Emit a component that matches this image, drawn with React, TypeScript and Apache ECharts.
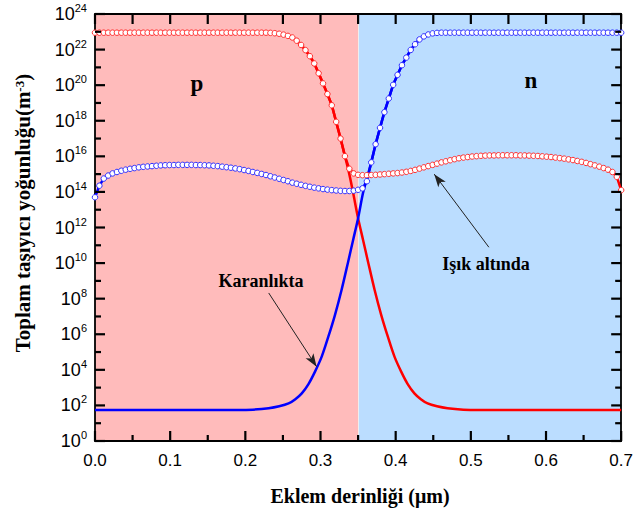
import React, { useEffect, useRef } from "react";
import * as echarts from "echarts";

// ---- Data (carrier density exponents: log10 of m^-3) ----
const depthStep = 0.7 / 120; // uniform simulation mesh, 121 nodes from 0 to 0.7 µm

// Illuminated (Işık altında) – holes, one value per mesh node
const holesLight = [
  22.95, 22.95, 22.95, 22.95, 22.95, 22.95, 22.95, 22.95, 22.95, 22.95,
  22.95, 22.95, 22.95, 22.95, 22.95, 22.95, 22.95, 22.95, 22.95, 22.95,
  22.95, 22.95, 22.95, 22.95, 22.95, 22.95, 22.95, 22.95, 22.95, 22.95,
  22.95, 22.95, 22.95, 22.95, 22.95, 22.95, 22.95, 22.95, 22.95, 22.95,
  22.94, 22.92, 22.89, 22.84, 22.77, 22.68, 22.5, 22.26, 21.97, 21.63,
  21.22, 20.67, 20.1, 19.5, 18.87, 17.94, 17.0, 16.01, 15.3, 15.04,
  14.96, 14.94, 14.94, 14.95, 14.96, 14.98, 15.0, 15.02, 15.04, 15.06,
  15.09, 15.13, 15.18, 15.24, 15.31, 15.38, 15.45, 15.52, 15.59, 15.66,
  15.72, 15.78, 15.84, 15.89, 15.93, 15.96, 15.99, 16.01, 16.03, 16.04,
  16.05, 16.05, 16.06, 16.06, 16.06, 16.06, 16.06, 16.05, 16.05, 16.04,
  16.03, 16.02, 16.0, 15.98, 15.96, 15.93, 15.9, 15.87, 15.83, 15.79,
  15.74, 15.69, 15.63, 15.56, 15.49, 15.42, 15.34, 15.25, 15.12, 14.85,
  14.1,
];

// Illuminated – electrons, one value per mesh node
const electronsLight = [
  13.7, 14.35, 14.75, 14.92, 15.04, 15.12, 15.19, 15.25, 15.3, 15.34,
  15.38, 15.41, 15.43, 15.45, 15.47, 15.49, 15.5, 15.51, 15.51, 15.52,
  15.52, 15.52, 15.52, 15.51, 15.51, 15.5, 15.49, 15.47, 15.45, 15.42,
  15.39, 15.36, 15.32, 15.28, 15.23, 15.18, 15.12, 15.07, 15.01, 14.95,
  14.88, 14.81, 14.74, 14.67, 14.6, 14.52, 14.46, 14.4, 14.34, 14.29,
  14.24, 14.2, 14.16, 14.13, 14.1, 14.08, 14.06, 14.05, 14.05, 14.07,
  14.12, 14.2, 14.6, 15.66, 16.68, 17.6, 18.48, 19.25, 20.02, 20.58,
  21.12, 21.55, 21.98, 22.3, 22.57, 22.74, 22.85, 22.91, 22.94, 22.95,
  22.95, 22.95, 22.95, 22.95, 22.95, 22.95, 22.95, 22.95, 22.95, 22.95,
  22.95, 22.95, 22.95, 22.95, 22.95, 22.95, 22.95, 22.95, 22.95, 22.95,
  22.95, 22.95, 22.95, 22.95, 22.95, 22.95, 22.95, 22.95, 22.95, 22.95,
  22.95, 22.95, 22.95, 22.95, 22.95, 22.95, 22.95, 22.95, 22.95, 22.95,
  22.95,
];

// Dark (Karanlıkta) – holes: [depth µm, log10 density]
const holesDark = [
  [0, 22.95], [0.2333, 22.94], [0.2392, 22.92], [0.245, 22.89], [0.2508, 22.84],
  [0.2567, 22.77], [0.2625, 22.68], [0.2683, 22.5], [0.2742, 22.26], [0.28, 21.97],
  [0.2858, 21.63], [0.2917, 21.22], [0.2975, 20.67], [0.3033, 20.1], [0.3092, 19.5],
  [0.315, 18.87], [0.3208, 17.94], [0.3267, 17.0], [0.3325, 16.01], [0.3383, 15.0],
  [0.3434, 13.95], [0.35, 12.52], [0.3566, 11.3], [0.3632, 10.08], [0.372, 8.49],
  [0.3808, 7.08], [0.3896, 5.86], [0.3984, 4.74], [0.4073, 3.9], [0.416, 3.2],
  [0.4249, 2.68], [0.4335, 2.35], [0.4425, 2.11], [0.455, 1.95], [0.469, 1.84],
  [0.49, 1.76], [0.51, 1.74], [0.7, 1.74],
];

// Dark – electrons: [depth µm, log10 density]
const electronsDark = [
  [0, 1.74], [0.19, 1.74], [0.21, 1.76], [0.231, 1.84], [0.245, 1.95],
  [0.2575, 2.11], [0.2665, 2.35], [0.2751, 2.68], [0.284, 3.2], [0.2927, 3.9],
  [0.3016, 4.74], [0.3104, 5.86], [0.3192, 7.08], [0.328, 8.49], [0.3368, 10.08],
  [0.3434, 11.3], [0.35, 12.52], [0.3566, 13.95], [0.3617, 14.75], [0.3675, 15.66],
  [0.3733, 16.68], [0.3792, 17.6], [0.385, 18.48], [0.3908, 19.25], [0.3967, 20.02],
  [0.4025, 20.58], [0.4083, 21.12], [0.4142, 21.55], [0.42, 21.98], [0.4258, 22.3],
  [0.4317, 22.57], [0.4375, 22.74], [0.4433, 22.85], [0.4492, 22.91], [0.455, 22.94],
  [0.4608, 22.95], [0.7, 22.95],
];

// Axis ticks
const xTicks = [0, 0.1, 0.2, 0.3, 0.4, 0.5, 0.6, 0.7];
const xTickMarks = [0, 0.05, 0.1, 0.15, 0.2, 0.25, 0.3, 0.35, 0.4, 0.45, 0.5, 0.55, 0.6, 0.65, 0.7];
const yExponents = [0, 2, 4, 6, 8, 10, 12, 14, 16, 18, 20, 22, 24];
const yTickMarks = [0, 1, 2, 3, 4, 5, 6, 7, 8, 9, 10, 11, 12, 13, 14, 15, 16, 17, 18, 19, 20, 21, 22, 23, 24];
const junctionDepth = 0.35;

// Annotation arrows [from, to] in data coordinates
const darkArrow = [[0.2311, 8.32], [0.2948, 4.18]];
const lightArrow = [[0.524, 10.89], [0.4513, 15.0]];

const serif = "Liberation Serif, Times New Roman, serif";
const sans = "Liberation Sans, Arial, sans-serif";

const W = 636;
const H = 510;
const GRID = { left: 95, right: 11, top: 14, bottom: 69 };

export default function App() {
  const ref = useRef<HTMLDivElement>(null);

  useEffect(() => {
    if (!ref.current) return;
    const chart = echarts.init(ref.current, undefined, { renderer: "svg" });

    const lightDepth = holesLight.map((_, i) => +(i * depthStep).toFixed(5));
    const holesLightData = lightDepth.map((x, i) => [x, holesLight[i]]);
    const electronsLightData = lightDepth.map((x, i) => [x, electronsLight[i]]);

    const xMin = xTicks[0];
    const xMax = xTicks[xTicks.length - 1];
    const yMin = yExponents[0];
    const yMax = yExponents[yExponents.length - 1];

    const mkAxisLine = () => ({ show: true, onZero: false, lineStyle: { color: "#000", width: 1.8 } });

    const textStyle = (text: string, size: number) => ({
      text,
      fontFamily: serif,
      fontSize: size,
      fontWeight: "bold",
      fill: "#000",
      align: "center",
      verticalAlign: "middle",
    });

    const texts: any[] = [
      { type: "text", x: 197, y: 83, z: 20, style: textStyle("p", 23) },
      { type: "text", x: 531, y: 80, z: 20, style: textStyle("n", 23) },
      { type: "text", x: 261, y: 281, z: 20, style: textStyle("Karanlıkta", 18) },
      { type: "text", x: 486, y: 264, z: 20, style: textStyle("Işık altında", 18) },
      {
        type: "text",
        x: 23,
        y: 213,
        rotation: Math.PI / 2,
        z: 20,
        style: {
          ...textStyle("Toplam taşıyıcı yoğunluğu(m{s|-3})", 21),
          rich: {
            s: { fontFamily: serif, fontSize: 13, fontWeight: "bold", lineHeight: 13, verticalAlign: "top", fill: "#000" },
          },
        },
      },
      { type: "text", x: 360, y: 496, z: 20, style: textStyle("Eklem derinliği (μm)", 20) },
    ];

    const option: any = {
      animation: false,
      grid: { ...GRID, containLabel: false },
      xAxis: [
        {
          type: "value",
          min: xMin,
          max: xMax,
          interval: 0.1,
          position: "bottom",
          axisLine: mkAxisLine(),
          axisTick: { show: false },
          axisLabel: {
            show: true,
            margin: 11,
            color: "#000",
            fontFamily: sans,
            fontSize: 17,
            formatter: (v: number) => v.toFixed(1),
          },
          splitLine: { show: false },
        },
        {
          type: "value",
          min: xMin,
          max: xMax,
          interval: 0.1,
          position: "top",
          axisLine: mkAxisLine(),
          axisTick: { show: false },
          axisLabel: { show: false },
          splitLine: { show: false },
        },
      ],
      yAxis: [
        {
          type: "value",
          min: yMin,
          max: yMax,
          interval: 2,
          position: "left",
          axisLine: mkAxisLine(),
          axisTick: { show: false },
          axisLabel: {
            show: true,
            margin: 8,
            color: "#000",
            formatter: (v: number) => `{b|10}{s|${v}}`,
            rich: {
              b: { fontFamily: sans, fontSize: 18, lineHeight: 23, color: "#000" },
              s: { fontFamily: sans, fontSize: 11, lineHeight: 11, verticalAlign: "top", color: "#000" },
            },
          },
          splitLine: { show: false },
        },
        {
          type: "value",
          min: yMin,
          max: yMax,
          interval: 2,
          position: "right",
          axisLine: mkAxisLine(),
          axisTick: { show: false },
          axisLabel: { show: false },
          splitLine: { show: false },
        },
      ],
      series: [
        {
          type: "line",
          name: "regions",
          data: [[0, -5]],
          showSymbol: false,
          silent: true,
          lineStyle: { opacity: 0 },
          z: 0,
          markArea: {
            silent: true,
            z: 0,
            data: [
              [{ xAxis: xMin, itemStyle: { color: "#FFBBBB", opacity: 1 } }, { xAxis: junctionDepth }],
              [{ xAxis: junctionDepth, itemStyle: { color: "#BBDDFF", opacity: 1 } }, { xAxis: xMax }],
            ],
          },
          markLine: {
            silent: true,
            z: 0,
            symbol: "none",
            label: { show: false },
            lineStyle: { color: "#EEEEEE", width: 1, type: "solid" },
            data: [{ xAxis: junctionDepth }],
          },
        },
        {
          type: "line",
          name: "holesDark",
          data: holesDark,
          showSymbol: false,
          smooth: 0.3,
          lineStyle: { color: "#FF0000", width: 2.5 },
          z: 3,
        },
        {
          type: "line",
          name: "electronsDark",
          data: electronsDark,
          showSymbol: false,
          smooth: 0.3,
          lineStyle: { color: "#0000FF", width: 2.5 },
          z: 3,
        },
        {
          type: "line",
          name: "holesLight",
          data: holesLightData,
          symbol: "circle",
          symbolSize: 5.5,
          showAllSymbol: true,
          itemStyle: { color: "#FFFFFF", borderColor: "#FF3030", borderWidth: 1 },
          lineStyle: { color: "#FF0000", width: 2.5 },
          z: 4,
        },
        {
          type: "line",
          name: "electronsLight",
          data: electronsLightData,
          symbol: "circle",
          symbolSize: 5.5,
          showAllSymbol: true,
          itemStyle: { color: "#FFFFFF", borderColor: "#3030FF", borderWidth: 1 },
          lineStyle: { color: "#0000FF", width: 2.5 },
          z: 4,
        },
        {
          type: "line",
          name: "annotations",
          data: [],
          z: 5,
          markLine: {
            silent: true,
            symbol: ["none", "arrow"],
            symbolSize: [7, 13],
            label: { show: false },
            lineStyle: { color: "#222", width: 1, type: "solid" },
            data: [
              [{ coord: darkArrow[0] }, { coord: darkArrow[1] }],
              [{ coord: lightArrow[0] }, { coord: lightArrow[1] }],
            ],
          },
        },
      ],
      graphic: texts,
    };

    chart.setOption(option);

    // Inward tick marks on all four sides, positioned through the axes' own scales
    const MAJOR = 10;
    const MINOR = 6;
    const tickStyle = { stroke: "#000", lineWidth: 2.2 };
    const ticks: any[] = [];
    const px = (x: number, y: number) => chart.convertToPixel({ gridIndex: 0 }, [x, y]) as number[];
    xTickMarks.forEach((v) => {
      const major = Math.abs(v * 10 - Math.round(v * 10)) < 1e-6;
      const b = px(v, yMin);
      const t = px(v, yMax);
      ticks.push({ type: "line", z: 100, silent: true, shape: { x1: b[0], y1: b[1], x2: b[0], y2: b[1] - (major ? MAJOR : MINOR) }, style: tickStyle });
      ticks.push({ type: "line", z: 100, silent: true, shape: { x1: t[0], y1: t[1], x2: t[0], y2: t[1] + MAJOR }, style: tickStyle });
    });
    yTickMarks.forEach((v) => {
      const len = v % 2 === 0 ? MAJOR : MINOR;
      const l = px(xMin, v);
      const r = px(xMax, v);
      ticks.push({ type: "line", z: 100, silent: true, shape: { x1: l[0], y1: l[1], x2: l[0] + len, y2: l[1] }, style: tickStyle });
      ticks.push({ type: "line", z: 100, silent: true, shape: { x1: r[0], y1: r[1], x2: r[0] - len, y2: r[1] }, style: tickStyle });
    });
    chart.setOption({ graphic: [...texts, ...ticks] });

    return () => chart.dispose();
  }, []);

  return (
    <div
      ref={ref}
      style={{ position: "fixed", left: 0, top: 0, width: W, height: H, background: "#fff" }}
    />
  );
}
